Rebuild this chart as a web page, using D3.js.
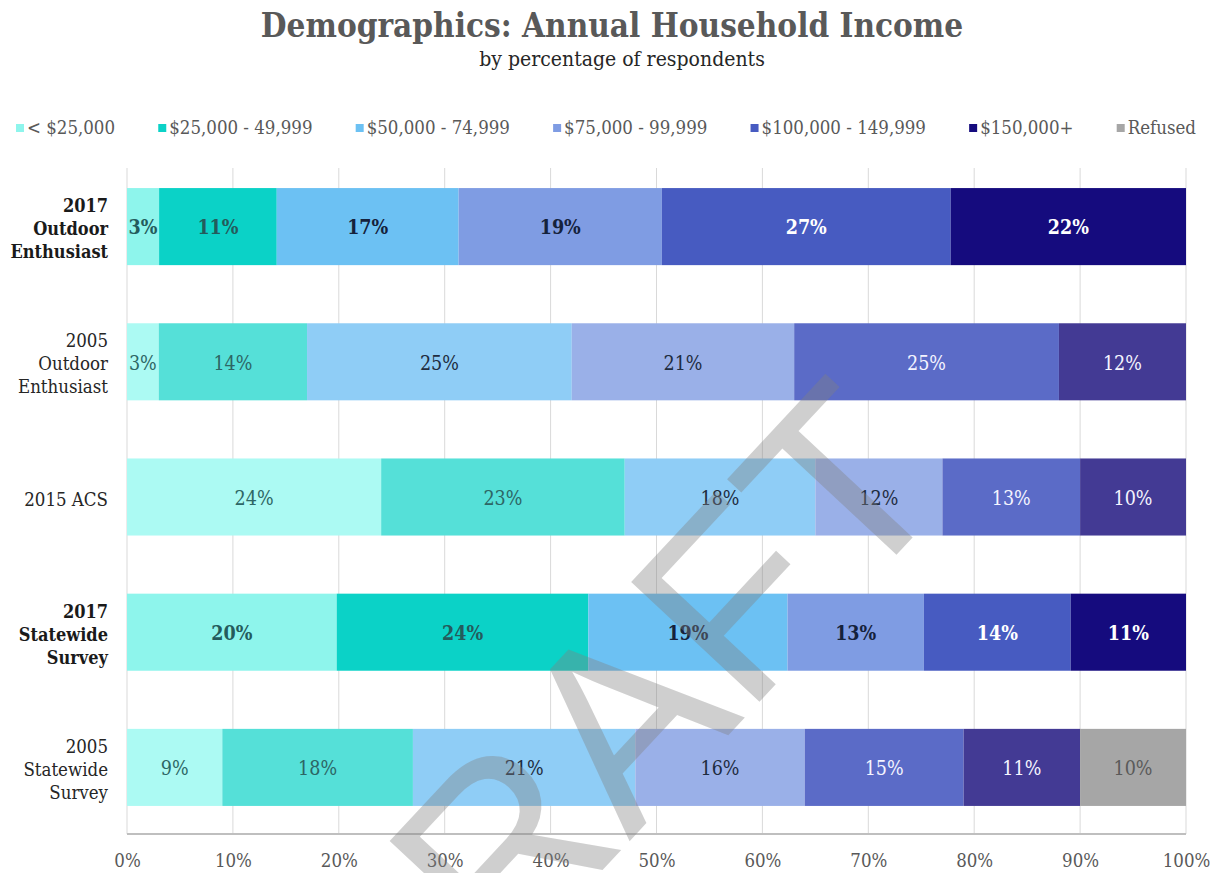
<!DOCTYPE html>
<html>
<head>
<meta charset="utf-8">
<script src="https://cdn.jsdelivr.net/npm/d3@7"></script>
<style>
  html, body { margin: 0; padding: 0; background: #fff; }
  svg { display: block; }
  .serif { font-family: "DejaVu Serif Condensed", "DejaVu Serif", serif; font-stretch: condensed; }
</style>
</head>
<body>
<svg id="chart" width="1224" height="873"></svg>
<script>
// Survey groups, top to bottom
const categories = [
  "2017 Outdoor Enthusiast",
  "2005 Outdoor Enthusiast",
  "2015 ACS",
  "2017 Statewide Survey",
  "2005 Statewide Survey"
];
// Label lines for each group
const categoryLines = [
  ["2017", "Outdoor", "Enthusiast"],
  ["2005", "Outdoor", "Enthusiast"],
  ["2015 ACS"],
  ["2017", "Statewide", "Survey"],
  ["2005", "Statewide", "Survey"]
];
const currentGroups = ["2017 Outdoor Enthusiast", "2017 Statewide Survey"];

// Income brackets (series)
const brackets = [
  "< $25,000", "$25,000 - 49,999", "$50,000 - 74,999", "$75,000 - 99,999",
  "$100,000 - 149,999", "$150,000+", "Refused"
];

// Percent of respondents in each bracket
const outdoor2017   = [3, 11, 17, 19, 27, 22, 0];
const outdoor2005   = [3, 14, 25, 21, 25, 12, 0];
const acs2015       = [24, 23, 18, 12, 13, 10, 0];
const statewide2017 = [20, 24, 19, 13, 14, 11, 0];
const statewide2005 = [9, 18, 21, 16, 15, 11, 10];

const tickValues = [0, 10, 20, 30, 40, 50, 60, 70, 80, 90, 100];

// Palettes: saturated for current surveys, softer for comparison surveys
const strongColors = ["#8ef5ec", "#0bd2c7", "#6cc1f3", "#7f9ce3", "#475bc1", "#150b7e", "#a6a6a6"];
const softColors   = ["#acfaf3", "#55e0d8", "#8fcdf6", "#9ab0e8", "#5b6bc7", "#433a94", "#a6a6a6"];
const strongText   = ["#245b5c", "#245b5c", "#15223c", "#15223c", "#ffffff", "#ffffff", "#555555"];
const softText     = ["#2d6665", "#2d6665", "#1e2c40", "#1e2c40", "#f4f4ff", "#f4f4ff", "#5a5a5a"];

const rows = [outdoor2017, outdoor2005, acs2015, statewide2017, statewide2005];
const table = categories.map((c, i) => {
  const o = { category: c };
  brackets.forEach((b, j) => { o[b] = rows[i][j]; });
  return o;
});

const svg = d3.select("#chart");
const W = 1224, H = 873;
const margin = { left: 127, right: 38, top: 159, bottom: 38 };

const x = d3.scaleLinear().domain([0, 1]).range([margin.left, W - margin.right]);
const y = d3.scaleBand().domain(categories)
  .range([margin.top, H - margin.bottom])
  .paddingInner(0.43).paddingOuter(0.215);

// 100% stacked layout
const series = d3.stack().keys(brackets).offset(d3.stackOffsetExpand)(table);

// Title
svg.append("text").attr("class", "serif")
  .attr("x", 612).attr("y", 37).attr("text-anchor", "middle")
  .attr("font-size", 33).attr("font-weight", "bold").attr("fill", "#595959")
  .text("Demographics: Annual Household Income");
svg.append("text").attr("class", "serif")
  .attr("x", 622).attr("y", 66).attr("text-anchor", "middle")
  .attr("font-size", 21).attr("fill", "#262626")
  .text("by percentage of respondents");

// Legend
const legend = svg.append("g").attr("class", "serif");
const items = legend.selectAll("g").data(brackets).join("g");
items.append("rect").attr("width", 8).attr("height", 8).attr("y", 124)
  .attr("fill", (d, i) => strongColors[i]);
items.append("text").attr("x", 11).attr("y", 134)
  .attr("font-size", 18.5).attr("fill", "#595959").text(d => d);
const widths = [];
items.each(function () { widths.push(this.querySelector("text").getComputedTextLength() + 11); });
const legendStart = 16, legendEnd = 1196;
const gap = (legendEnd - legendStart - d3.sum(widths)) / (widths.length - 1);
let cx = legendStart;
items.attr("transform", (d, i) => { const t = `translate(${cx},0)`; cx += widths[i] + gap; return t; });

// Grid
const gridTop = 168, axisY = H - margin.bottom - 1;
svg.append("g").selectAll("line").data(tickValues).join("line")
  .attr("x1", d => x(d / 100)).attr("x2", d => x(d / 100))
  .attr("y1", gridTop).attr("y2", axisY)
  .attr("stroke", "#d9d9d9").attr("stroke-width", 1);

// Bars
const isCurrent = c => currentGroups.includes(c);
const layers = svg.append("g").selectAll("g").data(series).join("g");
layers.selectAll("rect").data(d => d.map(p => Object.assign(p, { key: d.key, idx: d.index })))
  .join("rect")
  .attr("x", d => x(d[0]))
  .attr("width", d => x(d[1]) - x(d[0]))
  .attr("y", d => y(d.data.category))
  .attr("height", y.bandwidth())
  .attr("fill", d => (isCurrent(d.data.category) ? strongColors : softColors)[d.idx]);

// Value labels
layers.selectAll("text").data(d => d.filter(p => p.data[p.key] > 0))
  .join("text").attr("class", "serif")
  .attr("x", d => (x(d[0]) + x(d[1])) / 2)
  .attr("y", d => y(d.data.category) + y.bandwidth() / 2)
  .attr("dy", "0.4em")
  .attr("text-anchor", "middle")
  .attr("font-size", 19.5)
  .attr("font-weight", d => isCurrent(d.data.category) ? "bold" : "normal")
  .attr("fill", d => (isCurrent(d.data.category) ? strongText : softText)[d.idx])
  .text(d => d.data[d.key] + "%");

// Axis line and ticks
svg.append("line").attr("x1", x(0)).attr("x2", x(1)).attr("y1", axisY).attr("y2", axisY)
  .attr("stroke", "#bfbfbf").attr("stroke-width", 2);
const xAxis = d3.axisBottom(x).tickValues(tickValues.map(v => v / 100))
  .tickFormat(d3.format(".0%")).tickSize(0).tickPadding(0);
const axisG = svg.append("g").attr("transform", `translate(0,${axisY})`).call(xAxis);
axisG.select(".domain").remove();
axisG.selectAll("text").attr("class", "serif").attr("font-size", 18.5)
  .attr("fill", "#595959").attr("y", 20).attr("dy", "0.71em");

// Category labels
const catG = svg.append("g").attr("class", "serif");
categories.forEach((c, i) => {
  const lines = categoryLines[i];
  const lh = 23;
  const mid = y(c) + y.bandwidth() / 2 + 2;
  const t = catG.append("text").attr("text-anchor", "end")
    .attr("font-size", isCurrent(c) ? 18 : 18.5)
    .attr("font-weight", isCurrent(c) ? "bold" : "normal")
    .attr("fill", isCurrent(c) ? "#1a1a1a" : "#262626");
  lines.forEach((ln, k) => {
    t.append("tspan").attr("x", 108)
      .attr("y", mid + (k - (lines.length - 1) / 2) * lh)
      .attr("dy", "0.36em").text(ln);
  });
});

// Watermark
svg.append("text")
  .attr("transform", "translate(668,800) rotate(-47)")
  .attr("text-anchor", "middle")
  .attr("font-family", "Liberation Sans, Arial, sans-serif")
  .attr("font-size", 255)
  .attr("fill", "#808080").attr("fill-opacity", 0.38)
  .text("DRAFT");
</script>
</body>
</html>
